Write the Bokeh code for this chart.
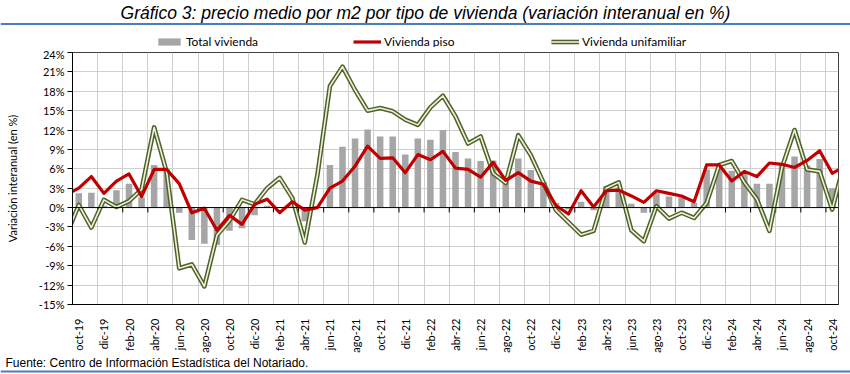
import math
from bokeh.plotting import figure
from bokeh.layouts import column
from bokeh.models import (FixedTicker, PrintfTickFormatter, Legend, LegendItem, Span, Range1d, Plot)
from bokeh.core.properties import value
from bokeh.embed import file_html
from bokeh.resources import INLINE

months = ["oct-19", "nov-19", "dic-19",
          "ene-20", "feb-20", "mar-20", "abr-20", "may-20", "jun-20", "jul-20", "ago-20", "sep-20", "oct-20", "nov-20", "dic-20",
          "ene-21", "feb-21", "mar-21", "abr-21", "may-21", "jun-21", "jul-21", "ago-21", "sep-21", "oct-21", "nov-21", "dic-21",
          "ene-22", "feb-22", "mar-22", "abr-22", "may-22", "jun-22", "jul-22", "ago-22", "sep-22", "oct-22", "nov-22", "dic-22",
          "ene-23", "feb-23", "mar-23", "abr-23", "may-23", "jun-23", "jul-23", "ago-23", "sep-23", "oct-23", "nov-23", "dic-23",
          "ene-24", "feb-24", "mar-24", "abr-24", "may-24", "jun-24", "jul-24", "ago-24", "sep-24", "oct-24"]

total_vivienda = [2.2, 2.3, 0.3, 2.7, 3.7, 1.6, 6.6, 6.0, -0.8, -5.0,
                  -5.6, -5.8, -3.6, -3.2, -1.2, 0.3, 0.1, 0.2, -2.1, 0.2,
                  6.6, 9.4, 10.7, 12.1, 11.0, 11.0, 8.2, 10.7, 10.5, 12.0,
                  8.6, 7.6, 7.2, 7.3, 4.1, 7.6, 5.8, 4.0, 0.7, -0.3,
                  0.9, -0.4, 3.3, 3.1, 0.6, -0.8, 2.3, 1.7, 1.6, 0.7,
                  5.9, 6.8, 5.7, 5.2, 3.7, 3.7, 6.5, 7.9, 6.5, 7.5, 3.0]

vivienda_piso = [3.0, 4.8, 2.2, 4.1, 5.2, 1.7, 5.9, 5.9, 3.7, -0.8,
                 -0.1, -3.5, -1.2, -2.6, 0.5, 1.3, -0.8, 0.9, -0.4, 0.0,
                 3.0, 4.1, 6.4, 9.5, 7.6, 7.7, 5.4, 8.2, 7.4, 8.7,
                 6.1, 5.9, 4.7, 7.0, 4.2, 5.4, 4.1, 3.6, 0.3, -1.0,
                 2.6, 0.1, 2.6, 2.7, 1.8, 0.8, 2.6, 2.2, 1.8, 0.9,
                 6.6, 6.6, 4.1, 5.6, 4.8, 6.9, 6.7, 6.2, 7.3, 8.8, 5.3]

vivienda_unifamiliar = [0.4, -3.1, 1.2, 0.1, 1.0, 2.8, 12.4, 5.5, -9.4, -8.8,
                        -12.2, -4.3, -2.0, 1.2, 0.5, 3.0, 4.6, 1.5, -5.4, 5.0,
                        18.8, 21.8, 18.2, 15.0, 15.4, 14.9, 13.6, 12.8, 15.5, 17.3,
                        14.1, 9.9, 11.0, 5.3, 3.8, 11.2, 8.1, 3.9, -0.4, -2.3,
                        -4.2, -3.6, 3.0, 3.9, -3.5, -5.2, 0.2, -1.7, -0.8, -1.6,
                        0.7, 6.6, 7.2, 3.9, 1.3, -3.6, 6.2, 12.0, 5.9, 5.6, -0.3]

# the lines continue past the visible window (sep-19 and nov-24 points, clipped by the frame)
piso_prev, piso_next = 2.0, 6.4
unif_prev, unif_next = -4.4, 7.3

y_ticks = list(range(-15, 25, 3))
title_text = "Gráfico 3: precio medio por m2 por tipo de vivienda (variación interanual en %)"
source_text = "Fuente: Centro de Información Estadística del Notariado."
y_label = "Variación interanual (en %)"
legend_labels = ["Total vivienda", "Vivienda piso", "Vivienda unifamiliar"]

W = 850
TOP_H, MAIN_H, BOT_H = 47, 309, 18
RULE = "#4A7EBB"
TICKF = "Lato"
BAR_C, PISO_C, UNI_OUT, UNI_IN = "#A6A6A6", "#C00000", "#4F6228", "#EEF2DC"

n = len(months)
xs = list(range(n))
line_x = [-1] + xs + [n]
piso_y = [piso_prev] + vivienda_piso + [piso_next]
unif_y = [unif_prev] + vivienda_unifamiliar + [unif_next]

HAS_FA = "frame_align" in Plot.properties()


def strip(height, y0):
    f = figure(width=W, height=height, output_backend="svg", toolbar_location=None,
               x_range=Range1d(0, W), y_range=Range1d(y0 + height, y0),
               x_axis_location=None, y_axis_location=None)
    f.min_border_left = f.min_border_right = f.min_border_top = f.min_border_bottom = 0
    f.xgrid.visible = False
    f.ygrid.visible = False
    f.outline_line_color = None
    f.background_fill_color = "white"
    f.border_fill_color = "white"
    if HAS_FA:
        f.frame_align = False
    return f


# ---- top strip: title, rule and legend
top = strip(TOP_H, 0)
top.text(x=[W / 2], y=[12], text=[title_text], text_align="center", text_baseline="middle",
         text_font=value("Liberation Sans"), text_font_style="italic", text_font_size="17.5px",
         text_color="black")
top.segment(x0=[0], y0=[23.5], x1=[W], y1=[23.5], line_color=RULE, line_width=2)
# legend-only renderers (zero-size / single-point, nothing visible in the strip)
lg_bar = top.vbar(x=[0], top=[0], bottom=[0], width=0, fill_color=BAR_C, line_color=None)
lg_red = top.line(x=[0], y=[0], line_color=PISO_C, line_width=3.2)
lg_go = top.line(x=[0], y=[0], line_color=UNI_OUT, line_width=4.6)
lg_gi = top.line(x=[0], y=[0], line_color=UNI_IN, line_width=1.6)
legend = Legend(items=[LegendItem(label=legend_labels[0], renderers=[lg_bar]),
                       LegendItem(label=legend_labels[1], renderers=[lg_red]),
                       LegendItem(label=legend_labels[2], renderers=[lg_go, lg_gi])],
                orientation="horizontal", location=(155, -1.5),
                background_fill_alpha=0, border_line_color=None,
                glyph_width=28, glyph_height=9, spacing=1, label_standoff=3, label_width=166,
                padding=0, margin=0, label_text_font=TICKF, label_text_font_size="12px",
                label_height=10, label_text_color="black", label_text_baseline="middle")
top.add_layout(legend, "center")

# ---- main chart
p = figure(width=W, height=MAIN_H, output_backend="svg", toolbar_location=None,
           x_range=Range1d(-0.5, n - 0.5), y_range=Range1d(min(y_ticks), max(y_ticks)))
p.min_border_left = 72
p.min_border_right = 12
p.min_border_top = 5
p.min_border_bottom = 52
p.background_fill_color = "white"
p.border_fill_color = "white"
p.outline_line_color = "#404040"
p.outline_line_width = 1
if HAS_FA:
    p.frame_align = False

p.xaxis.ticker = FixedTicker(ticks=xs[::2])
p.xaxis.major_label_overrides = {i: months[i] for i in xs[::2]}
p.xaxis.major_label_orientation = math.pi / 2
p.xaxis.major_tick_line_color = None
p.xaxis.minor_tick_line_color = None
p.xaxis.axis_line_color = "black"
p.xaxis.major_label_text_font = TICKF
p.xaxis.major_label_text_font_size = "11px"
p.xaxis.major_label_text_color = "black"
p.xaxis.major_label_standoff = 8

p.yaxis.ticker = FixedTicker(ticks=y_ticks)
p.yaxis.formatter = PrintfTickFormatter(format="%d%%")
p.yaxis.major_tick_out = 5
p.yaxis.major_tick_in = 0
p.yaxis.minor_tick_line_color = None
p.yaxis.axis_line_color = "black"
p.yaxis.major_tick_line_color = "black"
p.yaxis.major_label_text_font = TICKF
p.yaxis.major_label_text_font_size = "11px"
p.yaxis.major_label_text_color = "black"
p.yaxis.major_label_standoff = 3
p.yaxis.axis_label = y_label
p.yaxis.axis_label_text_font = TICKF
p.yaxis.axis_label_text_font_style = "normal"
p.yaxis.axis_label_text_font_size = "11px"
p.yaxis.axis_label_text_color = "black"
p.yaxis.axis_label_standoff = 17

p.ygrid.grid_line_color = "#cfcfcf"
p.ygrid.grid_line_width = 1
p.xgrid.ticker = FixedTicker(ticks=[i - 0.5 for i in xs[2::2]])
p.xgrid.grid_line_color = "#cfcfcf"
p.xgrid.grid_line_width = 1

bars = p.vbar(x=xs, top=total_vivienda, width=0.52, fill_color=BAR_C, line_color=None)

p.add_layout(Span(location=0, dimension="width", line_color="black", line_width=1))
bnds = [i - 0.5 for i in xs[2::2]]
p.segment(x0=bnds, y0=[0] * len(bnds), x1=bnds, y1=[-0.75] * len(bnds), line_color="black", line_width=1)

p.line(line_x, unif_y, line_color=UNI_OUT, line_width=4.6, line_join="round")
p.line(line_x, unif_y, line_color=UNI_IN, line_width=1.6, line_join="round")
p.line(line_x, piso_y, line_color=PISO_C, line_width=3.2, line_join="round")

# ---- bottom strip: source + rule
bot = strip(BOT_H, TOP_H + MAIN_H)
bot.text(x=[5], y=[362], text=[source_text], text_align="left", text_baseline="middle",
         text_font=value("Liberation Sans"), text_font_size="12px", text_color="black")
bot.segment(x0=[0], y0=[371], x1=[W], y1=[371], line_color=RULE, line_width=2)

layout = column(top, p, bot, spacing=0)
open("out.html", "w").write(file_html(layout, INLINE))
